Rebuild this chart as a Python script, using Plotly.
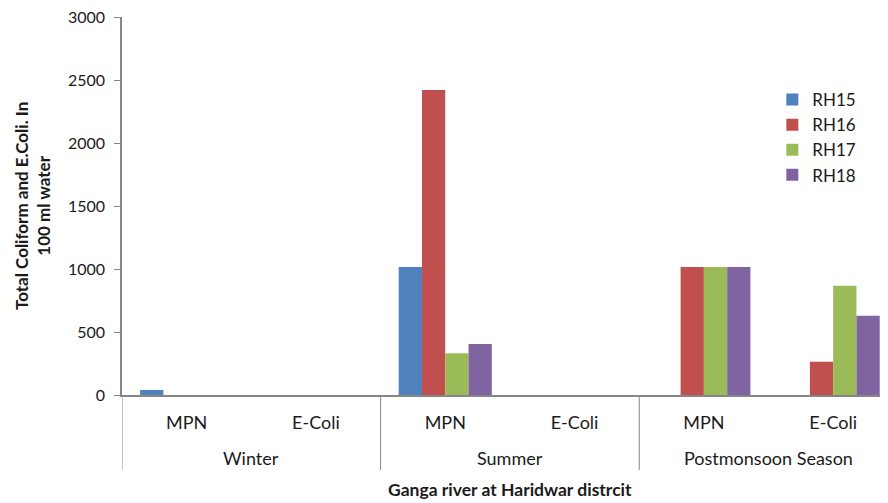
import plotly.graph_objects as go

seasons = ["Winter", "Winter", "Summer", "Summer", "Postmonsoon Season", "Postmonsoon Season"]
params = ["MPN", "E-Coli", "MPN", "E-Coli", "MPN", "E-Coli"]
season_names = ["Winter", "Summer", "Postmonsoon Season"]

rh15 = [40, 0, 1016, 0, 0, 0]
rh16 = [0, 0, 2420, 0, 1016, 264]
rh17 = [0, 0, 331, 0, 1016, 867]
rh18 = [0, 0, 405, 0, 1016, 629]

series = [("RH15", rh15, "#4F81BD"), ("RH16", rh16, "#C0504D"),
          ("RH17", rh17, "#9BBB59"), ("RH18", rh18, "#8064A2")]

FONT = "Lato, Open Sans, sans-serif"
TXT = "#1a1a1a"
AX = "#868686"

keys = [f"{s}|{p}" for s, p in zip(seasons, params)]

fig = go.Figure()
for name, vals, col in series:
    fig.add_trace(go.Bar(x=keys, y=vals, name=name,
                         marker=dict(color=col, line=dict(width=0))))

# season labels and dividers below the category axis
for i, s in enumerate(season_names):
    fig.add_annotation(x=2 * i + 0.5, xref="x", y=-0.167, yref="paper",
                       text=s, showarrow=False, yanchor="middle",
                       font=dict(size=18, color=TXT, family=FONT))
for i in range(len(season_names)):
    fig.add_shape(type="line", xref="x", yref="paper",
                  x0=2 * i - 0.5, x1=2 * i - 0.5, y0=0, y1=-0.198,
                  line=dict(color=AX, width=1))

fig.add_annotation(x=2.5, xref="x", y=-0.251, yref="paper", showarrow=False,
                   text="<b>Ganga river at Haridwar distrcit</b>", yanchor="middle",
                   font=dict(size=17.5, color=TXT, family=FONT))
fig.add_annotation(x=-0.1175, xref="paper", y=0.5, yref="paper", showarrow=False,
                   text="<b>Total Coliform and E.Coli. In<br>100 ml water</b>",
                   textangle=-90, xanchor="center", yanchor="middle",
                   font=dict(size=17, color=TXT, family=FONT))

fig.update_layout(
    width=880, height=495,
    margin=dict(l=114, r=0, t=9, b=108),
    paper_bgcolor="white", plot_bgcolor="white",
    barmode="group", bargap=0.28, bargroupgap=0,
    font=dict(family=FONT, size=17, color=TXT),
    legend=dict(x=0.849, y=0.828, xanchor="left", yanchor="top",
                font=dict(size=17), itemwidth=30, tracegroupgap=0,
                bgcolor="rgba(0,0,0,0)"),
    showlegend=True,
)
fig.update_yaxes(range=[0, 3000], dtick=500, showgrid=False, zeroline=False,
                 showline=True, linecolor=AX, linewidth=1.5,
                 ticks="outside", ticklen=6, tickcolor=AX,
                 ticklabelstandoff=6, automargin=False,
                 ticklabeloverflow="allow",
                 tickfont=dict(size=16))
fig.update_xaxes(range=[-0.5, 5.424], showgrid=False, showline=True,
                 linecolor=AX, linewidth=2, automargin=False,
                 tickvals=keys, ticktext=params, ticks="",
                 ticklabelstandoff=10, ticklabeloverflow="allow",
                 tickfont=dict(size=18))

fig.write_html("out.html")
